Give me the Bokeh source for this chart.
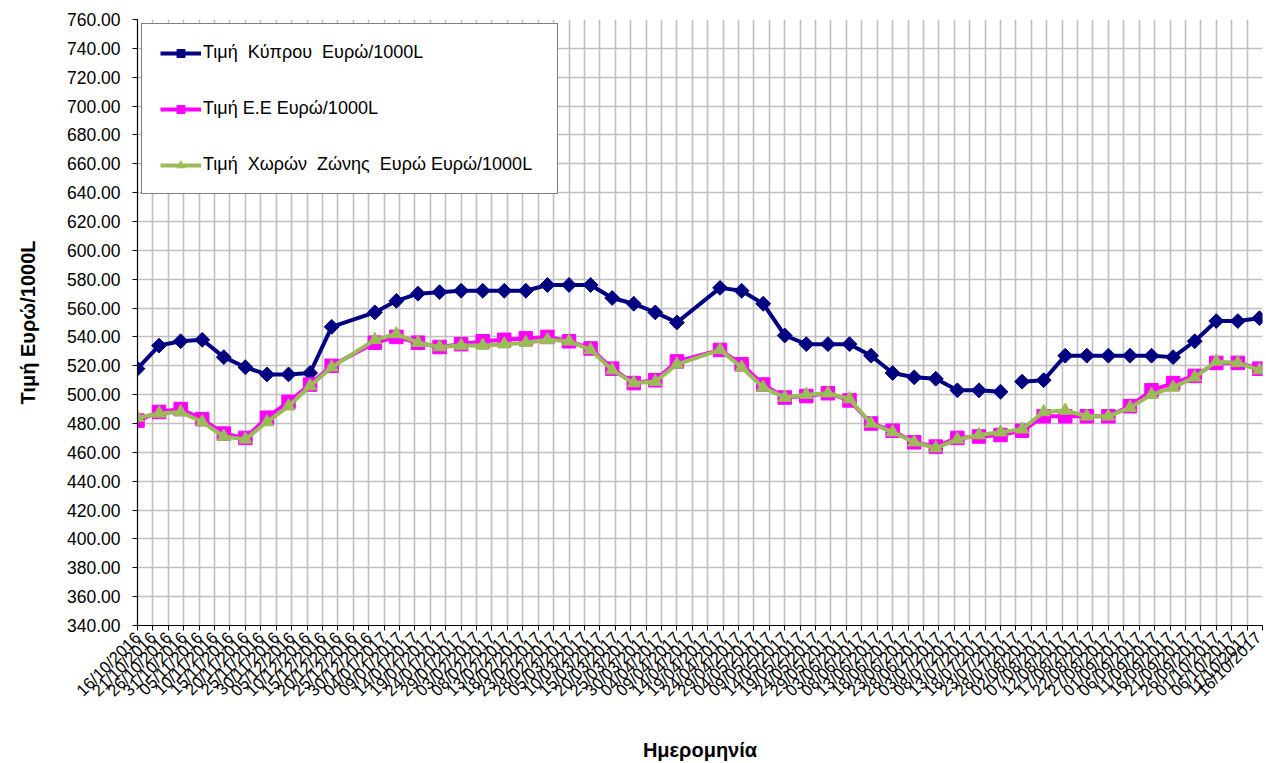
import math
from datetime import datetime, timedelta
from bokeh.plotting import figure
from bokeh.models import (Range1d, FixedTicker, DatetimeTickFormatter, NumeralTickFormatter,
                          Legend, LegendItem, ColumnDataSource)
from bokeh.embed import file_html
from bokeh.resources import INLINE

# ---------------- data ----------------
dates = ["16/10/2016", "23/10/2016", "30/10/2016", "06/11/2016", "13/11/2016", "20/11/2016",
         "27/11/2016", "04/12/2016", "11/12/2016", "18/12/2016",
         "01/01/2017", "08/01/2017", "15/01/2017", "22/01/2017", "29/01/2017", "05/02/2017",
         "12/02/2017", "19/02/2017", "26/02/2017",
         "05/03/2017", "12/03/2017", "19/03/2017", "26/03/2017", "02/04/2017", "09/04/2017",
         "23/04/2017", "30/04/2017", "07/05/2017", "14/05/2017", "21/05/2017", "28/05/2017",
         "04/06/2017", "11/06/2017", "18/06/2017", "25/06/2017",
         "02/07/2017", "09/07/2017", "16/07/2017", "23/07/2017", "30/07/2017", "06/08/2017",
         "13/08/2017", "20/08/2017", "27/08/2017",
         "03/09/2017", "10/09/2017", "17/09/2017", "24/09/2017", "01/10/2017", "08/10/2017",
         "15/10/2017"]

price_cyprus = [518, 534, 537, 538, 526, 519, 514, 514, 515, 547,
                557, 565, 570, 571, 572, 572, 572, 572, 576,
                576, 576, 567, 563, 557, 550,
                574, 572, 563, 541, 535, 535, 535, 527, 515, 512,
                511, 503, 503, 502, 509, 510, 527, 527, 527,
                527, 527, 526, 537, 551, 551, 553]

price_eu = [482, 488, 490, 483, 473, 470, 484, 495, 507, 520,
            536, 540, 536, 533, 535, 537, 538, 539, 540,
            537, 532, 518, 508, 510, 523,
            531, 521, 507, 498, 499, 501, 496, 480, 475, 467,
            464, 470, 471, 472, 475, 485, 485, 485, 485,
            492, 503, 508, 513, 522, 522, 518]

price_eurozone = [484, 487, 488, 481, 471, 469, 481, 492, 506, 519,
                  538, 542, 536, 533, 534, 534, 535, 536, 538,
                  537, 531, 517, 508, 509, 521,
                  531, 519, 505, 498, 500, 501, 497, 480, 474, 467,
                  463, 469, 472, 474, 476, 488, 489, 485, 485,
                  491, 500, 505, 512, 523, 522, 517]

# the Cyprus line is interrupted after this date in the original
cyprus_gap_after = "23/07/2017"

series_labels = ["Τιμή  Κύπρου  Ευρώ/1000L",
                 "Τιμή Ε.Ε Ευρώ/1000L",
                 "Τιμή  Χωρών  Ζώνης  Ευρώ Ευρώ/1000L"]

axis_start = "16/10/2016"
axis_end = "16/10/2017"
x_tick_step_days = 5
y_ticks = list(range(340, 761, 20))
x_title = "Ημερομηνία"
y_title = "Τιμή Ευρώ/1000L"

# ---------------- build ----------------
def d(s):
    return datetime.strptime(s, "%d/%m/%Y")

x = [d(s) for s in dates]
x0, x1 = d(axis_start), d(axis_end)
epoch = datetime(1970, 1, 1)
x_ticks = []
t = x0
while t <= x1:
    x_ticks.append((t - epoch).total_seconds() * 1000.0)
    t += timedelta(days=x_tick_step_days)

FONT = "Liberation Sans"

p = figure(width=1264, height=763, output_backend="svg", toolbar_location=None,
           x_axis_type="datetime",
           x_range=Range1d(x0, x1), y_range=Range1d(340, 760),
           min_border_left=137, min_border_top=19, min_border_bottom=138, min_border_right=2)
p.outline_line_color = None
p.background_fill_color = "white"
p.border_fill_color = "white"

# grids
p.xgrid.ticker = FixedTicker(ticks=x_ticks)
p.ygrid.ticker = FixedTicker(ticks=y_ticks)
for g in (p.xgrid, p.ygrid):
    g.grid_line_color = "#c0c0c0"
    g.grid_line_width = 1.6

# axes
p.xaxis.ticker = FixedTicker(ticks=x_ticks)
p.xaxis.formatter = DatetimeTickFormatter(days="%d/%m/%Y", months="%d/%m/%Y", years="%d/%m/%Y",
                                          hours="%d/%m/%Y", minutes="%d/%m/%Y")
p.xaxis.major_label_orientation = math.pi / 4
p.yaxis.ticker = FixedTicker(ticks=y_ticks)
p.yaxis.formatter = NumeralTickFormatter(format="0.00")
for ax in (p.xaxis, p.yaxis):
    ax.axis_line_color = "black"
    ax.axis_line_width = 1.2
    ax.major_tick_line_color = "black"
    ax.major_tick_in = 0
    ax.major_tick_out = 5
    ax.minor_tick_line_color = None
    ax.major_label_text_font = FONT
    ax.major_label_text_color = "black"
    ax.axis_label_text_font = FONT
    ax.axis_label_text_font_style = "bold"
    ax.axis_label_text_color = "black"
    ax.axis_label_text_font_size = "20px"
p.xaxis.major_label_text_font_size = "16.5px"
p.yaxis.major_label_text_font_size = "17.5px"
p.xaxis.major_label_standoff = 4
p.yaxis.major_label_standoff = 12
p.xaxis.axis_label = x_title
p.yaxis.axis_label = y_title
p.xaxis.axis_label_standoff = 30
p.yaxis.axis_label_standoff = 25

# series
src = ColumnDataSource(dict(x=x, cy=price_cyprus, eu=price_eu, ez=price_eurozone))

gi = dates.index(cyprus_gap_after)
cx_line = x[:gi + 1] + [x[gi]] + x[gi + 1:]
cy_line = price_cyprus[:gi + 1] + [float("nan")] + price_cyprus[gi + 1:]

NAVY, MAG, OLIVE = "#000080", "#ff00ff", "#9bbb59"

r1l = p.line(cx_line, cy_line, line_color=NAVY, line_width=4)
r1m = p.scatter("x", "cy", source=src, marker="square", angle=math.pi / 4, size=10.5,
                fill_color=NAVY, line_color=NAVY, line_width=1)
r2l = p.line("x", "eu", source=src, line_color=MAG, line_width=4)
r2m = p.scatter("x", "eu", source=src, marker="square", size=13.5,
                fill_color=MAG, line_color=MAG)
r3l = p.line("x", "ez", source=src, line_color=OLIVE, line_width=4)
r3m = p.scatter("x", "ez", source=src, marker="triangle", size=13,
                fill_color=OLIVE, line_color=OLIVE)

legend = Legend(items=[LegendItem(label=series_labels[0], renderers=[r1l, r1m]),
                       LegendItem(label=series_labels[1], renderers=[r2l, r2m]),
                       LegendItem(label=series_labels[2], renderers=[r3l, r3m])],
                location="top_left")
legend.margin = 4
legend.padding = 18
legend.spacing = 35
legend.glyph_width = 41
legend.glyph_height = 20
legend.label_height = 20
legend.label_standoff = 2
legend.label_width = 336
legend.label_text_font = FONT
legend.label_text_font_size = "18px"
legend.label_text_color = "black"
legend.border_line_color = "black"
legend.border_line_width = 1
legend.background_fill_color = "white"
legend.background_fill_alpha = 1
p.add_layout(legend)

open("out.html", "w").write(file_html(p, INLINE))
